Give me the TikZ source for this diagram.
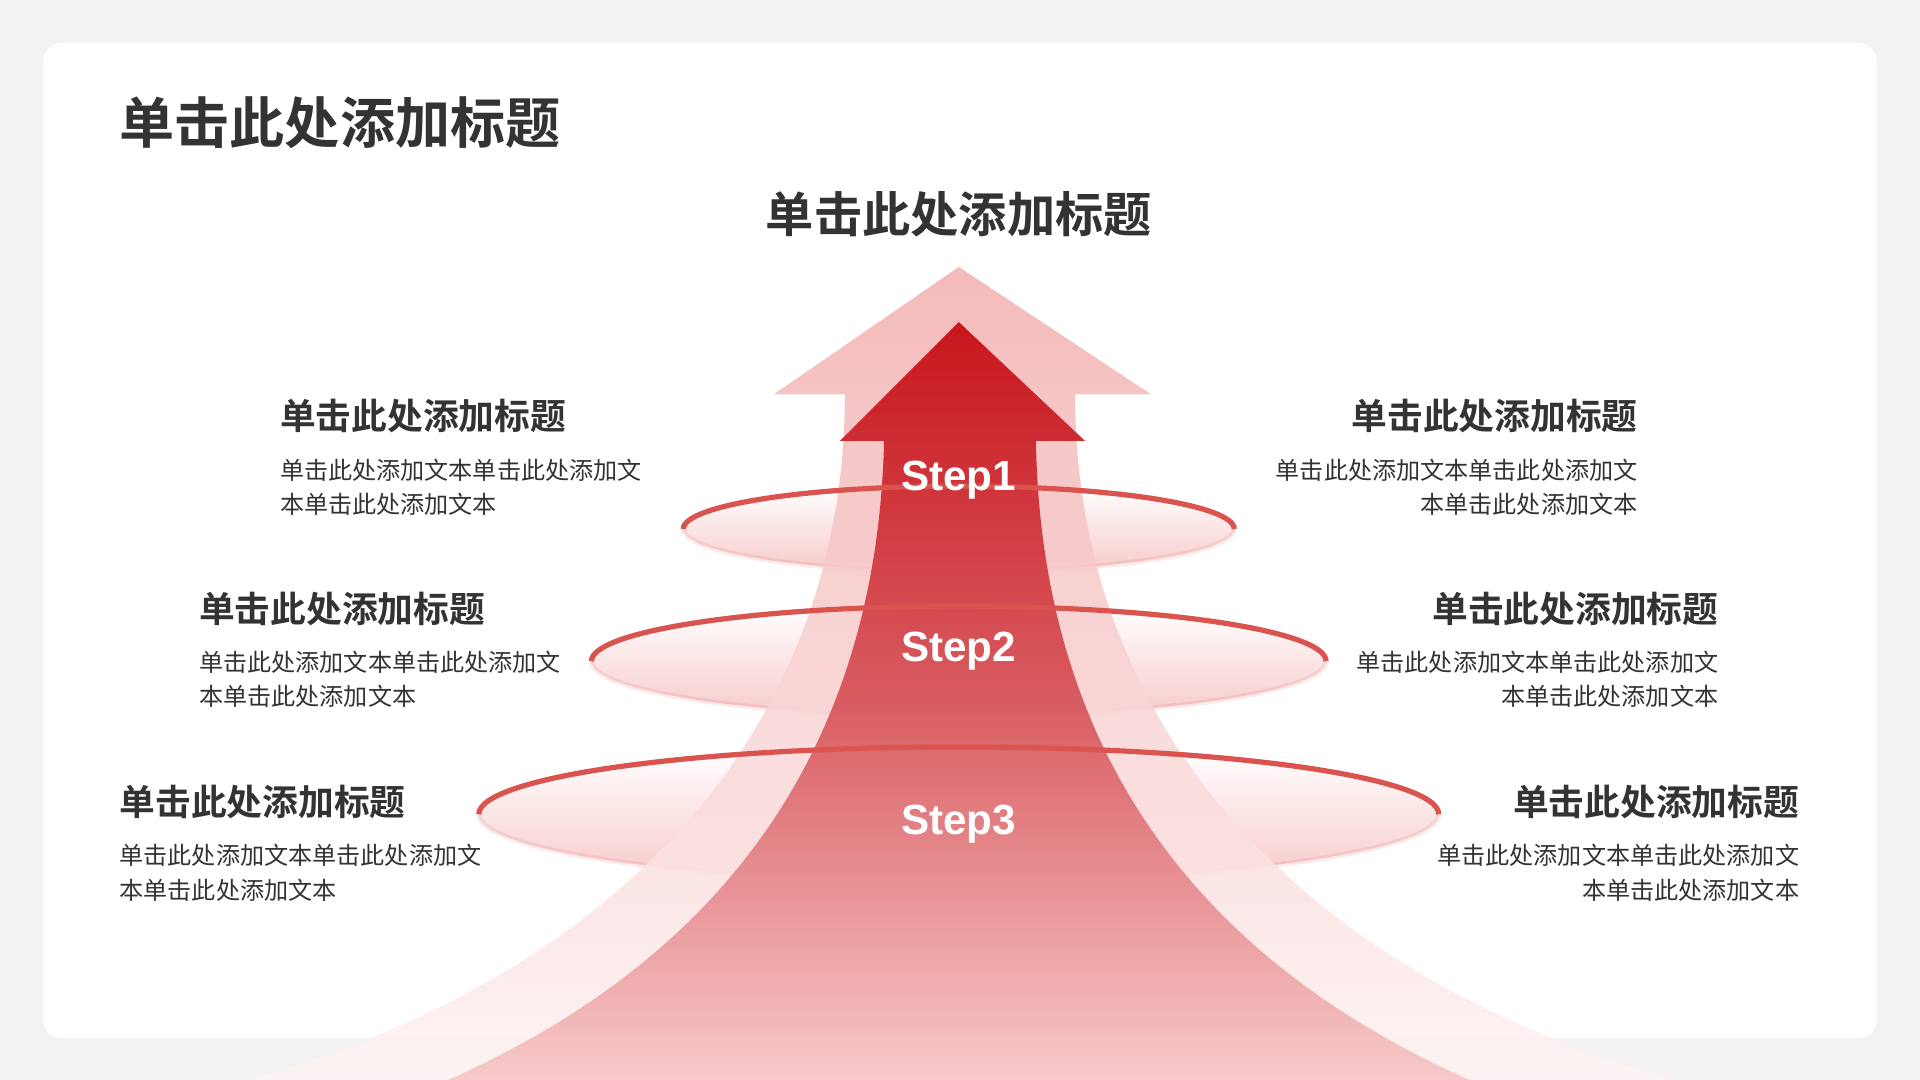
\documentclass[tikz,border=0pt]{standalone}
\usepackage{fontspec}
\setmainfont{Liberation Sans}
\newfontfamily\cjk{Noto Sans CJK SC}
\newfontfamily\cjkbold{Noto Sans CJK SC Bold}
\usetikzlibrary{positioning}
\definecolor{redark}{HTML}{C8161D}
\definecolor{redline}{HTML}{D9534F}
\definecolor{redpale}{HTML}{F4B3B3}
\definecolor{txtgray}{HTML}{333333}
\tikzset{
  headtxt/.style={font=\cjkbold\fontsize{8.3pt}{10pt}\selectfont, text=txtgray, inner sep=0pt},
  bodytxt/.style={font=\cjk\fontsize{5.6pt}{8pt}\selectfont, text=txtgray, inner sep=0pt, align=left},
  bodyright/.style={bodytxt, align=right},
  steptxt/.style={font=\bfseries\fontsize{9.8pt}{11pt}\selectfont, text=white, inner sep=0pt},
  ring/.style={draw=redline, line width=1.2pt}
}
\begin{document}
\begin{tikzpicture}[x=0.01cm, y=-0.01cm]
  \useasboundingbox (0,0) rectangle (1568,882);
  % background and card
  \fill[gray!10] (0,0) rectangle (1568,882);
  \fill[white, rounded corners=4.5pt] (35,35) rectangle (1533,848);

  \node[font=\cjkbold\fontsize{12.8pt}{14pt}\selectfont, text=txtgray, anchor=west, inner sep=0pt] (title) at (97,100) {单击此处添加标题};
  \node[font=\cjkbold\fontsize{11.2pt}{13pt}\selectfont, text=txtgray, inner sep=0pt] (top) at (783,175) {单击此处添加标题};

  % rings (fill)
  \shade[top color=white, bottom color=redpale!70] (783,432) ellipse (225 and 35);
  \shade[top color=white, bottom color=redpale!70] (783,540) ellipse (300 and 45);
  \shade[top color=white, bottom color=redpale!70] (783,665) ellipse (392 and 55);
  \draw[ring, opacity=0.12] (783,432) ellipse (225 and 35);
  \draw[ring, opacity=0.12] (783,540) ellipse (300 and 45);
  \draw[ring, opacity=0.12] (783,665) ellipse (392 and 55);

  % light arrow
  \shade[top color=redpale, bottom color=redpale!15, opacity=0.9]
    (783,218) -- (940,322) -- (878,322)
    .. controls (878,600) and (1070,800) .. (1370,882) -- (200,882)
    .. controls (500,800) and (690,600) .. (690,322) -- (632,322) -- cycle;
  % dark arrow
  \shade[top color=redark, bottom color=redpale!70, middle color=redark!70]
    (783,263) -- (886,360) -- (846,360)
    .. controls (851,650) and (1016,800) .. (1200,882) -- (366,882)
    .. controls (550,800) and (715,650) .. (722,360) -- (686,360) -- cycle;

  % front arcs of rings
  \draw[ring] (558,432) arc[start angle=180, end angle=360, x radius=225, y radius=35];
  \draw[ring] (483,540) arc[start angle=180, end angle=360, x radius=300, y radius=45];
  \draw[ring] (391,665) arc[start angle=180, end angle=360, x radius=392, y radius=55];

  \node[steptxt] (s1) at (783,392) {Step1};
  \node[steptxt] (s2) at (783,532) {Step2};
  \node[steptxt] (s3) at (783,673) {Step3};

  % left texts
  \node[headtxt, anchor=west] (l1) at (228,340) {单击此处添加标题};
  \node[bodytxt, anchor=north west] (l1b) at (228,374) {单击此处添加文本单击此处添加文\\本单击此处添加文本};
  \node[headtxt, anchor=west] (l2) at (162,497) {单击此处添加标题};
  \node[bodytxt, anchor=north west] (l2b) at (162,531) {单击此处添加文本单击此处添加文\\本单击此处添加文本};
  \node[headtxt, anchor=west] (l3) at (97,655) {单击此处添加标题};
  \node[bodytxt, anchor=north west] (l3b) at (97,689) {单击此处添加文本单击此处添加文\\本单击此处添加文本};

  % right texts
  \node[headtxt, anchor=east] (r1) at (1338,340) {单击此处添加标题};
  \node[bodyright, anchor=north east] (r1b) at (1338,374) {单击此处添加文本单击此处添加文\\本单击此处添加文本};
  \node[headtxt, anchor=east] (r2) at (1404,497) {单击此处添加标题};
  \node[bodyright, anchor=north east] (r2b) at (1404,531) {单击此处添加文本单击此处添加文\\本单击此处添加文本};
  \node[headtxt, anchor=east] (r3) at (1470,655) {单击此处添加标题};
  \node[bodyright, anchor=north east] (r3b) at (1470,689) {单击此处添加文本单击此处添加文\\本单击此处添加文本};
\end{tikzpicture}
\end{document}
